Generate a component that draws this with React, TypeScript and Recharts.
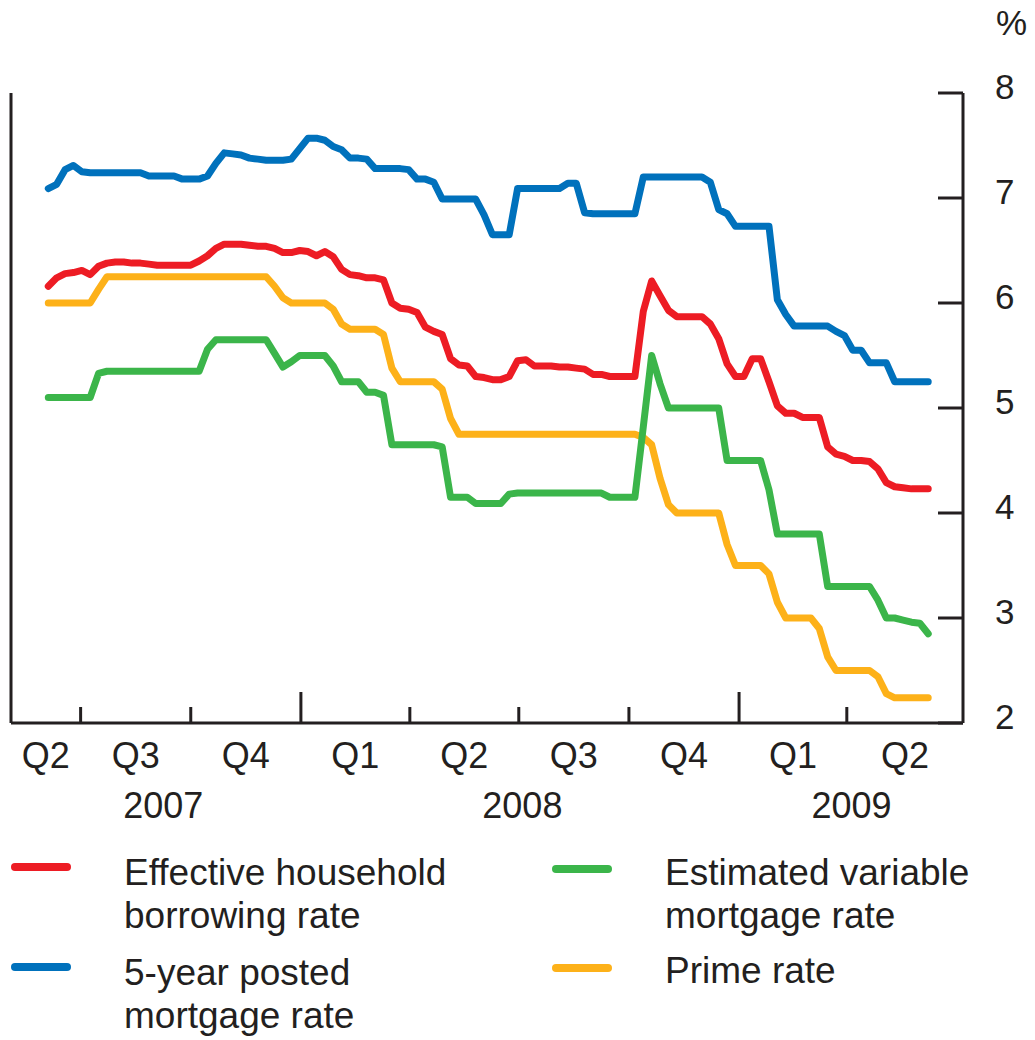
import React from "react";
import { LineChart, Line, XAxis, YAxis } from "recharts";

const FONT = "'Liberation Sans', Arial, Helvetica, sans-serif";
const AXIS = "#231F20";
const RED = "#ED1C24";
const BLUE = "#0071BC";
const GREEN = "#3BB54A";
const ORANGE = "#FDB119";

// weekly observations, first one on 4 June 2007
const START = Date.UTC(2007, 5, 4);
const DAY = 86400000;
const weekOf = (y: number, m: number, d: number) => (Date.UTC(y, m - 1, d) - START) / (7 * DAY);

const effective = [
  6.16, 6.24, 6.28, 6.29, 6.31, 6.27, 6.35, 6.38, 6.39, 6.39,
  6.38, 6.38, 6.37, 6.36, 6.36, 6.36, 6.36, 6.36, 6.40, 6.45,
  6.52, 6.56, 6.56, 6.56, 6.55, 6.54, 6.54, 6.52, 6.48, 6.48,
  6.50, 6.49, 6.45, 6.49, 6.44, 6.32, 6.27, 6.26, 6.24, 6.24,
  6.22, 6.00, 5.95, 5.94, 5.91, 5.77, 5.73, 5.70, 5.47, 5.41,
  5.40, 5.30, 5.29, 5.27, 5.27, 5.30, 5.45, 5.46, 5.40, 5.40,
  5.40, 5.39, 5.39, 5.38, 5.37, 5.32, 5.32, 5.30, 5.30, 5.30,
  5.30, 5.92, 6.21, 6.07, 5.93, 5.87, 5.87, 5.87, 5.87, 5.80,
  5.66, 5.42, 5.30, 5.30, 5.47, 5.47, 5.25, 5.02, 4.95, 4.95,
  4.91, 4.91, 4.91, 4.63, 4.56, 4.54, 4.50, 4.50, 4.49, 4.42,
  4.29, 4.25, 4.24, 4.23, 4.23, 4.23,
];

const posted5y = [
  7.09, 7.13, 7.27, 7.31, 7.25, 7.24, 7.24, 7.24, 7.24, 7.24,
  7.24, 7.24, 7.21, 7.21, 7.21, 7.21, 7.18, 7.18, 7.18, 7.21,
  7.33, 7.43, 7.42, 7.41, 7.38, 7.37, 7.36, 7.36, 7.36, 7.37,
  7.47, 7.57, 7.57, 7.55, 7.49, 7.46, 7.38, 7.38, 7.37, 7.28,
  7.28, 7.28, 7.28, 7.27, 7.18, 7.18, 7.15, 6.99, 6.99, 6.99,
  6.99, 6.99, 6.84, 6.65, 6.65, 6.65, 7.09, 7.09, 7.09, 7.09,
  7.09, 7.09, 7.14, 7.14, 6.86, 6.85, 6.85, 6.85, 6.85, 6.85,
  6.85, 7.20, 7.20, 7.20, 7.20, 7.20, 7.20, 7.20, 7.20, 7.15,
  6.89, 6.85, 6.73, 6.73, 6.73, 6.73, 6.73, 6.03, 5.89, 5.78,
  5.78, 5.78, 5.78, 5.78, 5.73, 5.69, 5.55, 5.55, 5.43, 5.43,
  5.43, 5.25, 5.25, 5.25, 5.25, 5.25,
];

const variable = [
  5.10, 5.10, 5.10, 5.10, 5.10, 5.10, 5.33, 5.35, 5.35, 5.35,
  5.35, 5.35, 5.35, 5.35, 5.35, 5.35, 5.35, 5.35, 5.35, 5.56,
  5.65, 5.65, 5.65, 5.65, 5.65, 5.65, 5.65, 5.52, 5.39, 5.44,
  5.50, 5.50, 5.50, 5.50, 5.40, 5.25, 5.25, 5.25, 5.15, 5.15,
  5.12, 4.65, 4.65, 4.65, 4.65, 4.65, 4.65, 4.63, 4.15, 4.15,
  4.15, 4.09, 4.09, 4.09, 4.09, 4.18, 4.19, 4.19, 4.19, 4.19,
  4.19, 4.19, 4.19, 4.19, 4.19, 4.19, 4.19, 4.15, 4.15, 4.15,
  4.15, 4.82, 5.50, 5.23, 5.00, 5.00, 5.00, 5.00, 5.00, 5.00,
  5.00, 4.50, 4.50, 4.50, 4.50, 4.50, 4.22, 3.80, 3.80, 3.80,
  3.80, 3.80, 3.80, 3.30, 3.30, 3.30, 3.30, 3.30, 3.30, 3.17,
  3.00, 3.00, 2.98, 2.96, 2.95, 2.85,
];

const prime = [
  6.00, 6.00, 6.00, 6.00, 6.00, 6.00, 6.13, 6.25, 6.25, 6.25,
  6.25, 6.25, 6.25, 6.25, 6.25, 6.25, 6.25, 6.25, 6.25, 6.25,
  6.25, 6.25, 6.25, 6.25, 6.25, 6.25, 6.25, 6.16, 6.05, 6.00,
  6.00, 6.00, 6.00, 6.00, 5.94, 5.80, 5.75, 5.75, 5.75, 5.75,
  5.70, 5.38, 5.25, 5.25, 5.25, 5.25, 5.25, 5.18, 4.90, 4.75,
  4.75, 4.75, 4.75, 4.75, 4.75, 4.75, 4.75, 4.75, 4.75, 4.75,
  4.75, 4.75, 4.75, 4.75, 4.75, 4.75, 4.75, 4.75, 4.75, 4.75,
  4.75, 4.72, 4.65, 4.33, 4.08, 4.00, 4.00, 4.00, 4.00, 4.00,
  4.00, 3.70, 3.50, 3.50, 3.50, 3.50, 3.42, 3.15, 3.00, 3.00,
  3.00, 3.00, 2.90, 2.63, 2.50, 2.50, 2.50, 2.50, 2.50, 2.44,
  2.28, 2.24, 2.24, 2.24, 2.24, 2.24,
];

const weeks = effective.map((_, i) => i);
const data = weeks.map((w, i) => ({
  w,
  effective: effective[i],
  posted5y: posted5y[i],
  variable: variable[i],
  prime: prime[i],
}));

const X_DOMAIN: [number, number] = [-4.45, 109.15];
const Y_TICKS = [2, 3, 4, 5, 6, 7, 8];

const quarterStarts: [number, number, number][] = [
  [2007, 7, 1], [2007, 10, 1], [2008, 1, 1], [2008, 4, 1],
  [2008, 7, 1], [2008, 10, 1], [2009, 1, 1], [2009, 4, 1],
];
const quarterLabels = ["Q2", "Q3", "Q4", "Q1", "Q2", "Q3", "Q4", "Q1", "Q2"];
const yearLabels = ["2007", "2008", "2009"];
const yearLabelDates: [number, number, number][] = [[2007, 9, 8], [2008, 7, 4], [2009, 4, 5]];

type TickInfo = { kind: "bound" | "quarter" | "year"; label?: string; long?: boolean };
const tickInfo = new Map<number, TickInfo>();
const boundaries = quarterStarts.map(([y, m, d]) => weekOf(y, m, d));
boundaries.forEach((b, i) => tickInfo.set(b, { kind: "bound", long: quarterStarts[i][1] === 1 }));
const edges = [X_DOMAIN[0], ...boundaries, X_DOMAIN[1]];
quarterLabels.forEach((q, i) => tickInfo.set((edges[i] + edges[i + 1]) / 2, { kind: "quarter", label: q }));
yearLabels.forEach((yl, i) => {
  const [y, m, d] = yearLabelDates[i];
  tickInfo.set(weekOf(y, m, d), { kind: "year", label: yl });
});
const xTicks = Array.from(tickInfo.keys());

const renderXTick = (props: any) => {
  const { x, y, payload } = props;
  const info = tickInfo.get(payload.value);
  if (!info) return <g />;
  if (info.kind === "bound") {
    return (
      <line x1={x} x2={x} y1={y} y2={y - (info.long ? 31 : 16)} stroke={AXIS} strokeWidth={3} />
    );
  }
  return (
    <text
      x={x}
      y={info.kind === "quarter" ? y + 45 : y + 95}
      textAnchor="middle"
      fontSize={36}
      fontFamily={FONT}
      fill={AXIS}
    >
      {info.label}
    </text>
  );
};

const renderLeftTick = (props: any) => {
  const { x, y } = props;
  return <line x1={x} x2={x + 25} y1={y} y2={y} stroke={AXIS} strokeWidth={3} />;
};

const renderRightTick = (props: any) => {
  const { x, y, payload } = props;
  return (
    <g>
      <line x1={x - 25} x2={x} y1={y} y2={y} stroke={AXIS} strokeWidth={3} />
      <text x={x + 32} y={y + 6} fontSize={35} fontFamily={FONT} fill={AXIS}>
        {payload.value}
      </text>
    </g>
  );
};

const legendItems = [
  { color: RED, lines: ["Effective household", "borrowing rate"], x: 15, y: 867, tx: 124, ty: 885 },
  { color: BLUE, lines: ["5-year posted", "mortgage rate"], x: 15, y: 967, tx: 124, ty: 985 },
  { color: GREEN, lines: ["Estimated variable", "mortgage rate"], x: 556, y: 869, tx: 665, ty: 885 },
  { color: ORANGE, lines: ["Prime rate"], x: 556, y: 968, tx: 665, ty: 983 },
];

export default function App() {
  const lineProps = {
    yAxisId: "right",
    type: "linear" as const,
    dot: false,
    activeDot: false,
    strokeWidth: 7,
    strokeLinecap: "round" as const,
    strokeLinejoin: "round" as const,
    isAnimationActive: false,
  };
  return (
    <div style={{ position: "absolute", left: 0, top: 0, width: 1035, height: 1040, background: "#fff" }}>
      <LineChart width={1035} height={840} data={data} margin={{ top: 93, right: 0, bottom: 0, left: 0 }}>
        <XAxis
          dataKey="w"
          type="number"
          domain={X_DOMAIN}
          allowDataOverflow
          ticks={xTicks}
          interval={0}
          height={117}
          tickLine={false}
          tickSize={0}
          tickMargin={0}
          axisLine={{ stroke: AXIS, strokeWidth: 3 }}
          tick={renderXTick}
        />
        <YAxis
          yAxisId="left"
          orientation="left"
          width={11}
          type="number"
          domain={[2, 8]}
          ticks={Y_TICKS}
          interval={0}
          tickLine={false}
          tickSize={0}
          tickMargin={0}
          axisLine={{ stroke: AXIS, strokeWidth: 3 }}
          tick={renderLeftTick}
        />
        <YAxis
          yAxisId="right"
          orientation="right"
          width={72}
          type="number"
          domain={[2, 8]}
          ticks={Y_TICKS}
          interval={0}
          tickLine={false}
          tickSize={0}
          tickMargin={0}
          axisLine={{ stroke: AXIS, strokeWidth: 3 }}
          tick={renderRightTick}
        />
        <Line {...lineProps} dataKey="prime" stroke={ORANGE} name="Prime rate" />
        <Line {...lineProps} dataKey="variable" stroke={GREEN} name="Estimated variable mortgage rate" />
        <Line {...lineProps} dataKey="effective" stroke={RED} name="Effective household borrowing rate" />
        <Line {...lineProps} dataKey="posted5y" stroke={BLUE} name="5-year posted mortgage rate" />
      </LineChart>
      <svg
        width={1035}
        height={1040}
        style={{ position: "absolute", left: 0, top: 0, pointerEvents: "none" }}
      >
        <text x={996} y={35} fontSize={35} fontFamily={FONT} fill={AXIS}>%</text>
        {legendItems.map((it) => (
          <g key={it.lines[0]}>
            <line x1={it.x} x2={it.x + 52} y1={it.y} y2={it.y} stroke={it.color} strokeWidth={8} strokeLinecap="round" />
            {it.lines.map((ln, k) => (
              <text key={ln} x={it.tx} y={it.ty + k * 43} fontSize={37} fontFamily={FONT} fill={AXIS}>
                {ln}
              </text>
            ))}
          </g>
        ))}
      </svg>
    </div>
  );
}
